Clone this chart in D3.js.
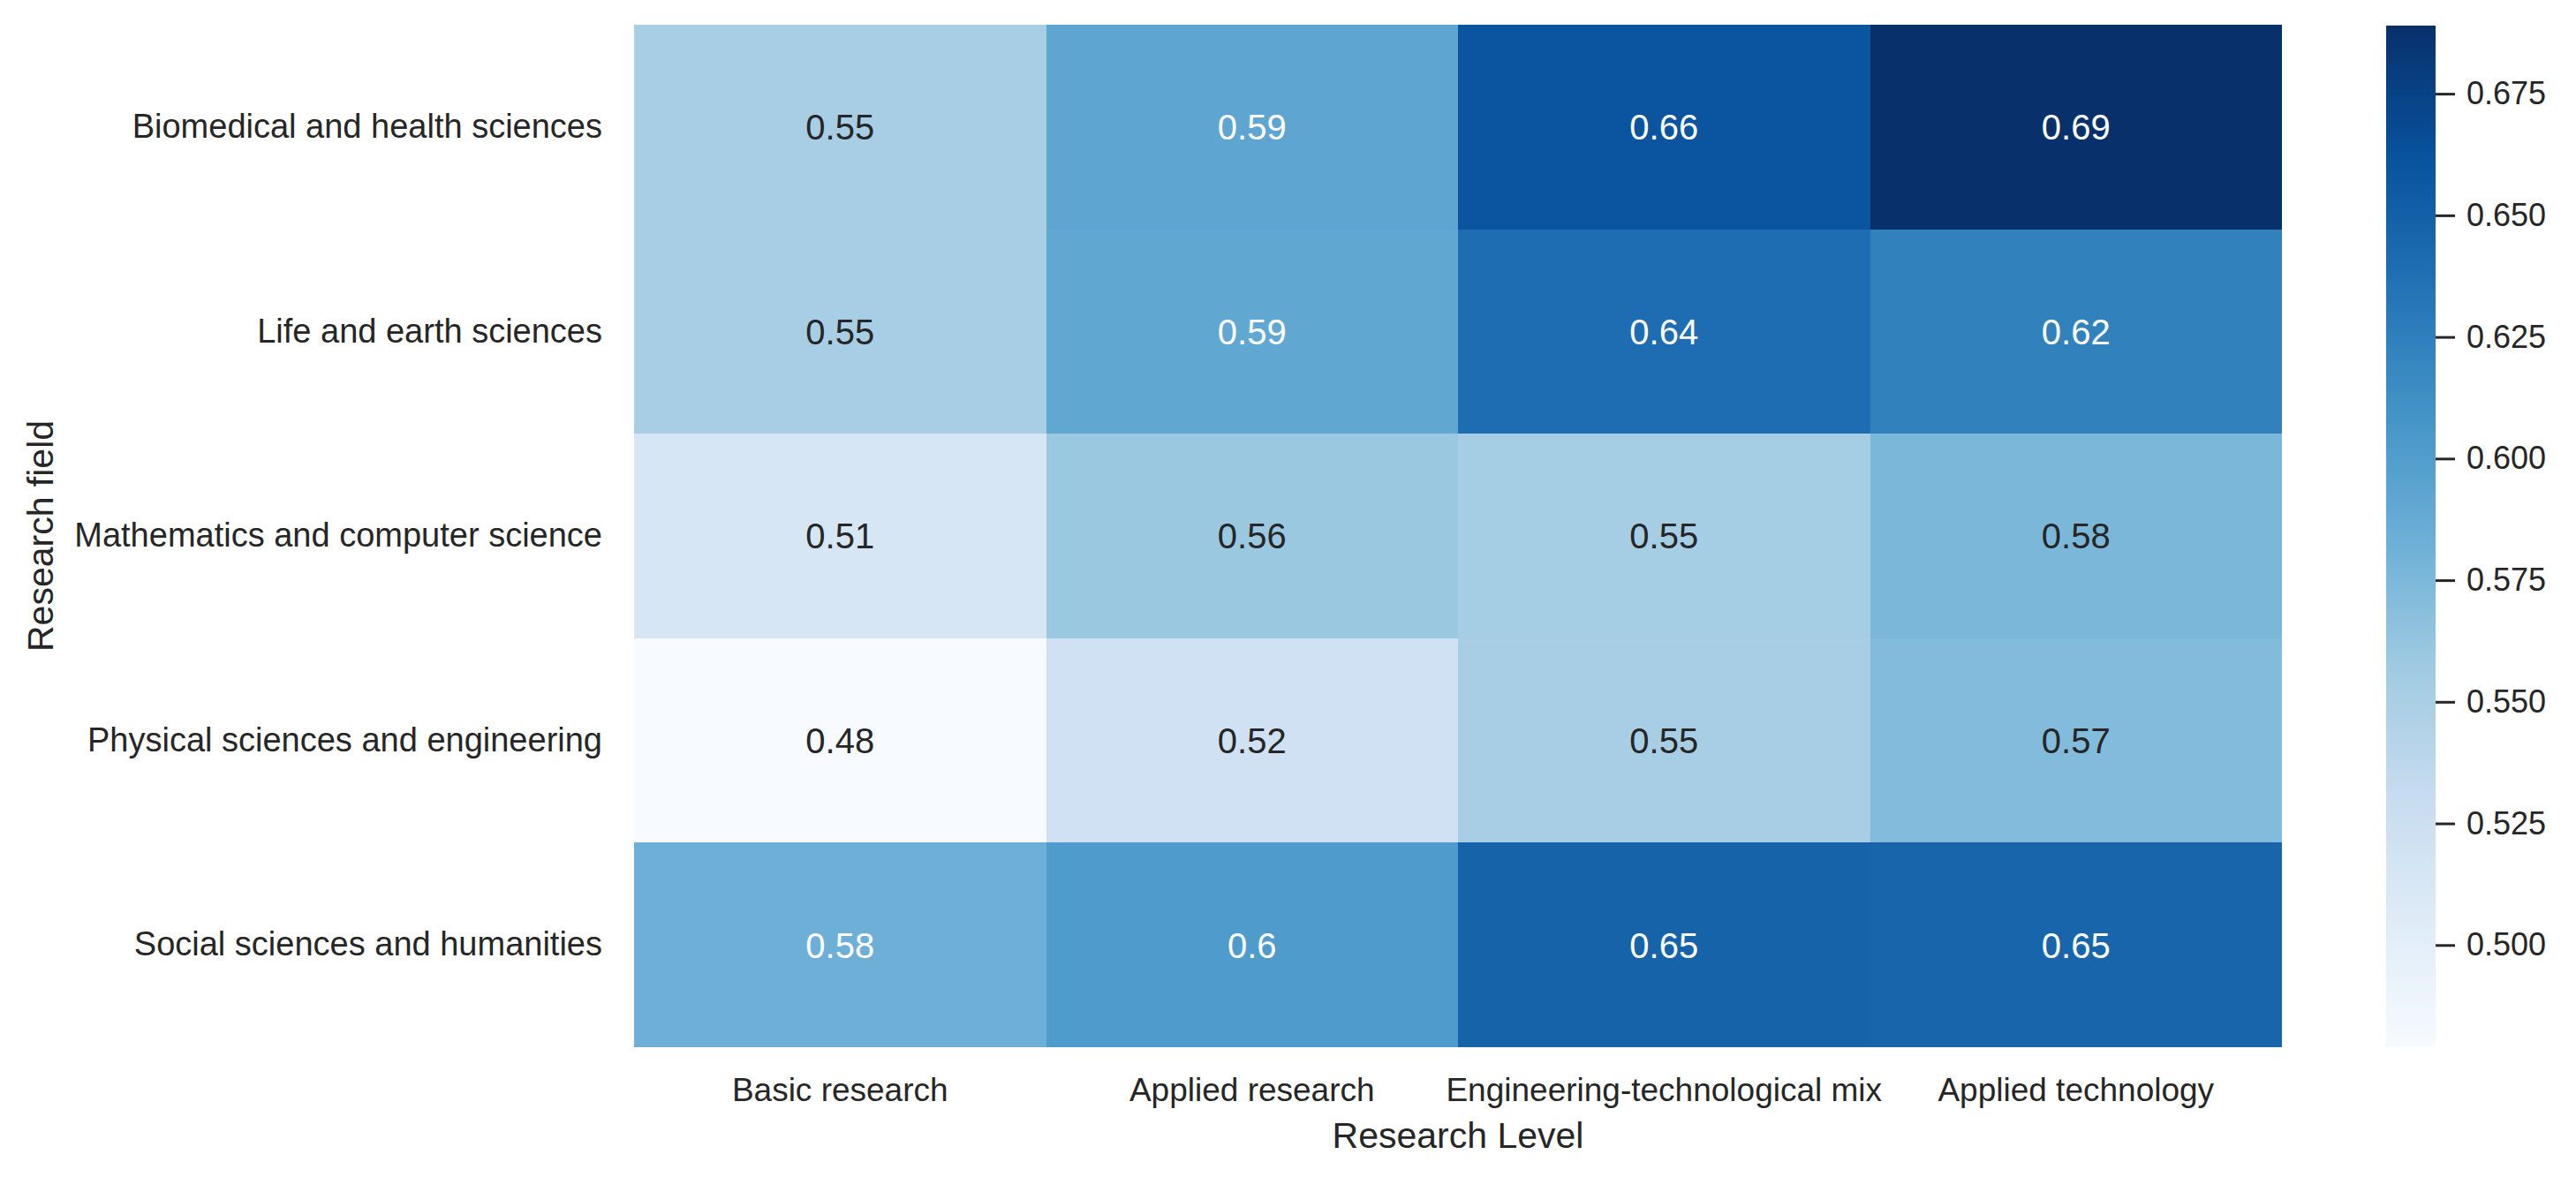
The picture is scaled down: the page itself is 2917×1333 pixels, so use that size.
<!DOCTYPE html>
<html>
<head>
<meta charset="utf-8">
<script src="https://cdn.jsdelivr.net/npm/d3@7"></script>
<style>
  html, body { margin: 0; padding: 0; background: #ffffff; }
  svg { display: block; font-family: "Liberation Sans", Arial, Helvetica, sans-serif; }
</style>
</head>
<body>
<svg id="chart" width="2917" height="1333"></svg>
<script>
// ---- data ----
const researchFields = [
  "Biomedical and health sciences",
  "Life and earth sciences",
  "Mathematics and computer science",
  "Physical sciences and engineering",
  "Social sciences and humanities"
];
const researchLevels = [
  "Basic research",
  "Applied research",
  "Engineering-technological mix",
  "Applied technology"
];
const biomedicalValues = [0.552, 0.592, 0.660, 0.689];
const lifeEarthValues  = [0.551, 0.591, 0.640, 0.624];
const mathCsValues     = [0.514, 0.560, 0.553, 0.576];
const physicalValues   = [0.479, 0.522, 0.552, 0.572];
const socialValues     = [0.583, 0.602, 0.648, 0.646];
const colorbarTicks = [0.500, 0.525, 0.550, 0.575, 0.600, 0.625, 0.650, 0.675];
const xTitle = "Research Level";
const yTitle = "Research field";

const matrix = [biomedicalValues, lifeEarthValues, mathCsValues, physicalValues, socialValues];
const cells = [];
matrix.forEach((row, i) => row.forEach((v, j) => cells.push({ field: researchFields[i], level: researchLevels[j], value: v })));

// ---- layout ----
const hm = { x0: 718, x1: 2584, y0: 28, y1: 1186 };
const cb = { x0: 2702, x1: 2758, y0: 29, y1: 1186 };

const svg = d3.select("#chart");

const x = d3.scaleBand().domain(researchLevels).range([hm.x0, hm.x1]).padding(0);
const y = d3.scaleBand().domain(researchFields).range([hm.y0, hm.y1]).padding(0);

const allVals = cells.map(d => d.value);
const vmin = d3.min(allVals), vmax = d3.max(allVals);

// matplotlib "Blues" (linear segmented through ColorBrewer anchors)
const bluesAnchors = ["#f7fbff", "#deebf7", "#c6dbef", "#9ecae1", "#6baed6", "#4292c6", "#2171b5", "#08519c", "#08306b"];
const bluesLinear = d3.scaleLinear()
  .domain(d3.range(bluesAnchors.length).map(i => i / (bluesAnchors.length - 1)))
  .range(bluesAnchors)
  .interpolate(d3.interpolateRgb)
  .clamp(true);
const norm = d3.scaleLinear().domain([vmin, vmax]).range([0, 1]).clamp(true);
const color = v => bluesLinear(norm(v));

// cells
svg.append("g").selectAll("rect").data(cells).join("rect")
  .attr("x", d => x(d.level))
  .attr("y", d => y(d.field))
  .attr("width", x.bandwidth())
  .attr("height", y.bandwidth())
  .attr("fill", d => color(d.value))
  .attr("shape-rendering", "crispEdges");

// annotations
function relLum(c) {
  const rgb = d3.rgb(c);
  const f = u => { u /= 255; return u <= 0.03928 ? u / 12.92 : Math.pow((u + 0.055) / 1.055, 2.4); };
  return 0.2126 * f(rgb.r) + 0.7152 * f(rgb.g) + 0.0722 * f(rgb.b);
}
const fmt = d3.format(".2~g");
svg.append("g").selectAll("text").data(cells).join("text")
  .attr("x", d => x(d.level) + x.bandwidth() / 2)
  .attr("y", d => y(d.field) + y.bandwidth() / 2)
  .attr("dy", "0.36em")
  .attr("text-anchor", "middle")
  .attr("font-size", 40)
  .attr("fill", d => relLum(color(d.value)) > 0.408 ? "#262626" : "#ffffff")
  .text(d => fmt(d.value));

// y axis (labels only)
const yAxis = d3.axisLeft(y).tickSize(0).tickPadding(36);
const gy = svg.append("g").attr("transform", `translate(${hm.x0},0)`).call(yAxis);
gy.select(".domain").remove();
gy.selectAll("text").attr("font-size", 38).attr("fill", "#262626")
  .attr("font-family", "Liberation Sans, Arial, sans-serif");

// x axis (labels only)
const xAxis = d3.axisBottom(x).tickSize(0).tickPadding(35);
const gx = svg.append("g").attr("transform", `translate(0,${hm.y1})`).call(xAxis);
gx.select(".domain").remove();
gx.selectAll("text").attr("font-size", 37).attr("fill", "#262626")
  .attr("font-family", "Liberation Sans, Arial, sans-serif");

// axis titles
svg.append("text")
  .attr("x", (hm.x0 + hm.x1) / 2)
  .attr("y", 1300)
  .attr("text-anchor", "middle")
  .attr("font-size", 41)
  .attr("fill", "#262626")
  .text(xTitle);
svg.append("text")
  .attr("transform", `translate(60,${(hm.y0 + hm.y1) / 2}) rotate(-90)`)
  .attr("text-anchor", "middle")
  .attr("font-size", 41)
  .attr("fill", "#262626")
  .text(yTitle);

// colorbar
const cbScale = d3.scaleLinear().domain([vmin, vmax]).range([cb.y1, cb.y0]);
const defs = svg.append("defs");
const grad = defs.append("linearGradient").attr("id", "cbgrad")
  .attr("x1", "0").attr("y1", "1").attr("x2", "0").attr("y2", "0");
d3.range(0, 1.0001, 0.02).forEach(t => {
  grad.append("stop").attr("offset", t).attr("stop-color", bluesLinear(t));
});
svg.append("rect")
  .attr("x", cb.x0).attr("y", cb.y0)
  .attr("width", cb.x1 - cb.x0).attr("height", cb.y1 - cb.y0)
  .attr("fill", "url(#cbgrad)");

const cbAxis = d3.axisRight(cbScale).tickValues(colorbarTicks).tickFormat(d3.format(".3f")).tickSize(22).tickPadding(13);
const gcb = svg.append("g").attr("transform", `translate(${cb.x1},0)`).call(cbAxis);
gcb.select(".domain").remove();
gcb.selectAll(".tick line").attr("stroke", "#262626").attr("stroke-width", 3);
gcb.selectAll("text").attr("font-size", 36).attr("fill", "#262626")
  .attr("font-family", "Liberation Sans, Arial, sans-serif");
</script>
</body>
</html>
